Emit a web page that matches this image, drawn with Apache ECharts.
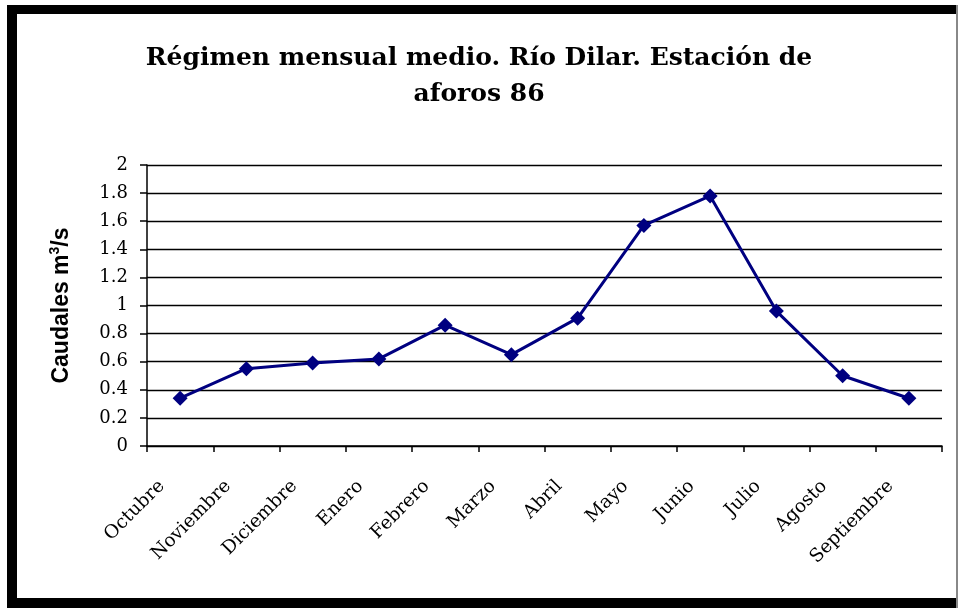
<!DOCTYPE html>
<html>
<head>
<meta charset="utf-8">
<script src="https://cdn.jsdelivr.net/npm/echarts@6/dist/echarts.min.js"></script>
<style>
html,body{margin:0;padding:0;background:#fff;}
#chart{width:958px;height:608px;}
</style>
</head>
<body>
<div id="chart"></div>
<script>
var titleText = 'Régimen mensual medio. Río Dilar. Estación de\naforos 86';
var months = ['Octubre','Noviembre','Diciembre','Enero','Febrero','Marzo','Abril','Mayo','Junio','Julio','Agosto','Septiembre'];
var caudales = [0.34,0.55,0.59,0.62,0.86,0.65,0.91,1.57,1.78,0.96,0.50,0.34];
var yTicks = [0,0.2,0.4,0.6,0.8,1,1.2,1.4,1.6,1.8,2];

var chart = echarts.init(document.getElementById('chart'), null, {renderer:'canvas'});
chart.setOption({
  backgroundColor:'#fff',
  animation:false,
  title:{
    text:titleText,
    left:'center',
    top:35,
    textStyle:{fontFamily:'DejaVu Serif',fontWeight:'bold',fontSize:25,lineHeight:36,color:'#000',align:'center'}
  },
  graphic:[
    {type:'rect',shape:{x:7,y:5,width:10,height:603},style:{fill:'#000'},silent:true},
    {type:'rect',shape:{x:7,y:5,width:951,height:9},style:{fill:'#000'},silent:true},
    {type:'rect',shape:{x:7,y:598,width:951,height:10},style:{fill:'#000'},silent:true},
    {type:'rect',shape:{x:956,y:5,width:2,height:603},style:{fill:'#888'},silent:true}
  ],
  grid:{left:147,right:16,top:165,bottom:162,containLabel:false},
  xAxis:{
    type:'category',
    data:months,
    boundaryGap:true,
    axisLine:{lineStyle:{color:'#000',width:1.5}},
    axisTick:{show:true,length:6,lineStyle:{color:'#000',width:1.5}},
    axisLabel:{rotate:45,margin:19,padding:[0,26,0,0],fontFamily:'DejaVu Serif',fontSize:18.5,color:'#000',interval:0}
  },
  yAxis:{
    type:'value',
    min:0,max:2,interval:0.2,
    name:'{m|Caudales m}{s|3}{m|/s}',
    nameLocation:'middle',
    nameRotate:90,
    nameGap:71,
    nameTextStyle:{
      rich:{
        m:{fontFamily:'Liberation Sans',fontWeight:'bold',fontSize:23,color:'#000',lineHeight:28},
        s:{fontFamily:'Liberation Sans',fontWeight:'bold',fontSize:14,color:'#000',verticalAlign:'top',lineHeight:28}
      }
    },
    axisLine:{show:true,lineStyle:{color:'#000',width:1.5}},
    axisTick:{show:true,length:7,lineStyle:{color:'#000',width:1.5}},
    splitLine:{show:true,lineStyle:{color:'#000',width:1.3}},
    axisLabel:{margin:19,fontFamily:'DejaVu Serif',fontSize:18,color:'#000',
      formatter:function(v){var r=Math.round(v*10)/10;return yTicks.indexOf(r)>=0?String(r):'';}}
  },
  series:[{
    type:'line',
    data:caudales,
    symbol:'diamond',
    symbolSize:15,
    lineStyle:{color:'#000080',width:3},
    itemStyle:{color:'#000080'}
  }]
});
</script>
</body>
</html>
